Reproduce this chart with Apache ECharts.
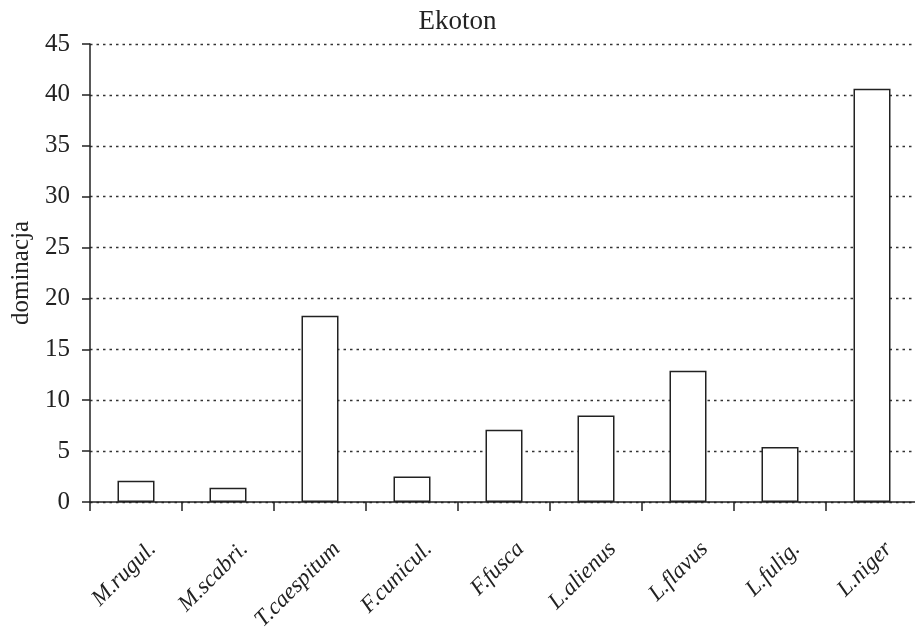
<!DOCTYPE html>
<html>
<head>
<meta charset="utf-8">
<title>Ekoton</title>
<script src="https://cdn.jsdelivr.net/npm/echarts@6/dist/echarts.min.js"></script>
<style>
    html, body {margin: 0; padding: 0; background: #fff;}
    #chart {width: 915px; height: 629px;}
</style>
</head>
<body>
<div id="chart"></div>
<script>
// gatunki i wartości dominacji
const species = ['M.rugul.', 'M.scabri.', 'T.caespitum', 'F.cunicul.', 'F.fusca', 'L.alienus', 'L.flavus', 'L.fulig.', 'L.niger'];
const dominance = [2.1, 1.4, 18.3, 2.5, 7.1, 8.5, 12.9, 5.4, 40.6];
const yTicks = [0, 5, 10, 15, 20, 25, 30, 35, 40, 45];

const serif = '"Liberation Serif", "DejaVu Serif", serif';

let chart = echarts.init(document.getElementById('chart'));
let option = {
    animation: false,
    backgroundColor: '#fff',
    title: {
        text: 'Ekoton',
        left: 'center',
        top: 3,
        textStyle: {fontFamily: serif, fontWeight: 'normal', fontSize: 27, color: '#222'}
    },
    grid: {left: 90, right: -3, top: 44, bottom: 127, outerBoundsMode: 'none', containLabel: false},
    xAxis: {
        type: 'category',
        data: species,
        boundaryGap: true,
        axisLine: {lineStyle: {color: '#222', width: 1.5}},
        axisTick: {show: true, alignWithLabel: false, length: 9, lineStyle: {color: '#222', width: 1.5}},
        axisLabel: {
            rotate: 45,
            margin: 27,
            fontFamily: serif,
            fontStyle: 'italic',
            fontSize: 23,
            color: '#222',
            interval: 0,
            verticalAlign: 'top',
            padding: [12, 0, 0, 0]
        },
        splitLine: {show: false}
    },
    yAxis: {
        type: 'value',
        min: 0,
        max: 45,
        interval: 5,
        name: 'dominacja',
        nameLocation: 'middle',
        nameGap: 56,
        nameRotate: 90,
        nameTextStyle: {fontFamily: serif, fontSize: 25, color: '#222'},
        axisLine: {show: true, lineStyle: {color: '#222', width: 1.5}},
        axisTick: {show: true, length: 8, lineStyle: {color: '#222', width: 1.5}},
        axisLabel: {
            margin: 20,
            fontFamily: serif,
            fontSize: 25,
            color: '#222',
            formatter: v => yTicks.includes(v) ? String(v) : ''
        },
        splitLine: {show: true, lineStyle: {color: '#333', width: 1.3, type: [2.5, 4]}}
    },
    series: [{
        type: 'bar',
        data: dominance,
        barWidth: 37,
        itemStyle: {color: '#fff', borderColor: '#222', borderWidth: 1.5}
    }]
};
chart.setOption(option);
</script>
</body>
</html>
